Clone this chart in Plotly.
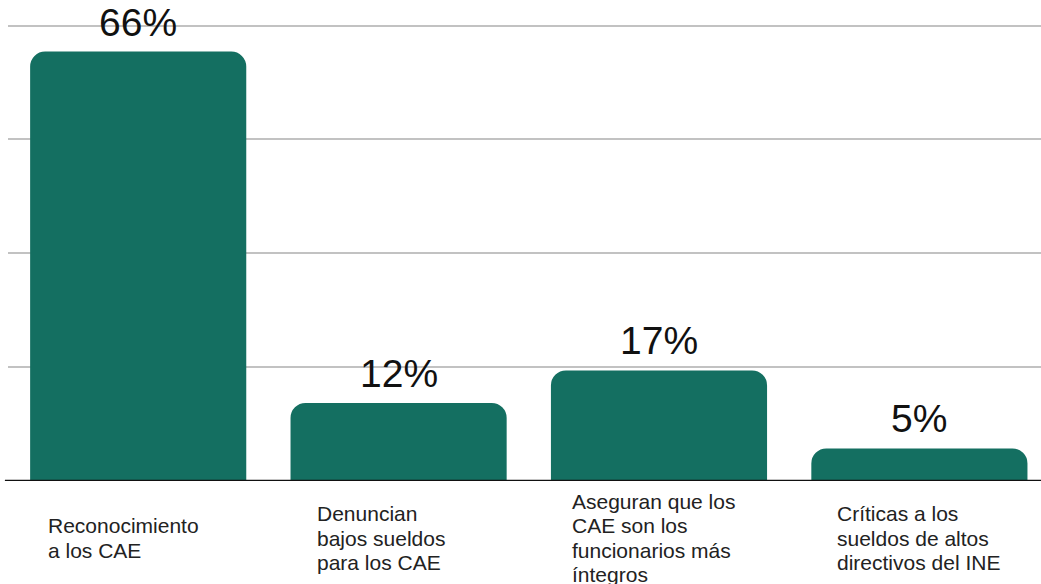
import plotly.graph_objects as go

categories = ["Reconocimiento<br>a los CAE",
              "Denuncian<br>bajos sueldos<br>para los CAE",
              "Aseguran que los<br>CAE son los<br>funcionarios más<br>íntegros",
              "Críticas a los<br>sueldos de altos<br>directivos del INE"]
values = [66, 12, 17, 5]
value_labels = ["66%", "12%", "17%", "5%"]
label_shift = [-92, -84, -89, -84]

FONT = "Liberation Sans, Arial, Helvetica, sans-serif"
BAR = "#146f61"
LABEL_SIZE = 21
LINE_GAP = 24.2
CENTER_OFFSET = 57

x = list(range(len(values)))
fig = go.Figure(go.Bar(
    x=x, y=values,
    marker=dict(color=BAR, line=dict(width=0)),
    cliponaxis=False, hoverinfo="skip",
))

annotations = []
for i, (v, t) in enumerate(zip(values, value_labels)):
    annotations.append(dict(
        x=i, xref="x", y=v, yref="y", text=t, showarrow=False,
        xanchor="center", yanchor="bottom", yshift=6,
        font=dict(size=39, color="#111111", family=FONT),
    ))
for i, (c, s) in enumerate(zip(categories, label_shift)):
    lines = c.split("<br>")
    n = len(lines)
    for k, line in enumerate(lines):
        dy = -CENTER_OFFSET - (k - (n - 1) / 2) * LINE_GAP
        annotations.append(dict(
            x=i, xref="x", y=0, yref="paper", text=line, showarrow=False,
            xanchor="left", yanchor="middle", align="left",
            xshift=s, yshift=dy,
            font=dict(size=LABEL_SIZE, color="#222222", family=FONT),
        ))

fig.update_layout(
    width=1041, height=584,
    margin=dict(l=8, r=0, t=18.5, b=103),
    paper_bgcolor="white", plot_bgcolor="white",
    bargap=0.17, barcornerradius=15,
    showlegend=False,
    font=dict(family=FONT),
    xaxis=dict(range=[-0.5, 3.467], showticklabels=False, showgrid=False,
               zeroline=False, showline=False, ticks=""),
    yaxis=dict(range=[0, 71], tick0=0, dtick=17.5, showticklabels=False,
               showgrid=True, gridcolor="#c2c2c2", gridwidth=2,
               zeroline=False, showline=False, ticks=""),
    annotations=annotations,
    shapes=[dict(type="line", xref="paper", yref="y", x0=-0.003, x1=1.0,
                 y0=0, y1=0, line=dict(color="#111111", width=2.5))],
)

fig.write_html("out.html", config={"displayModeBar": False},
               post_script="document.body.style.margin='0px';document.body.style.overflow='hidden';")
